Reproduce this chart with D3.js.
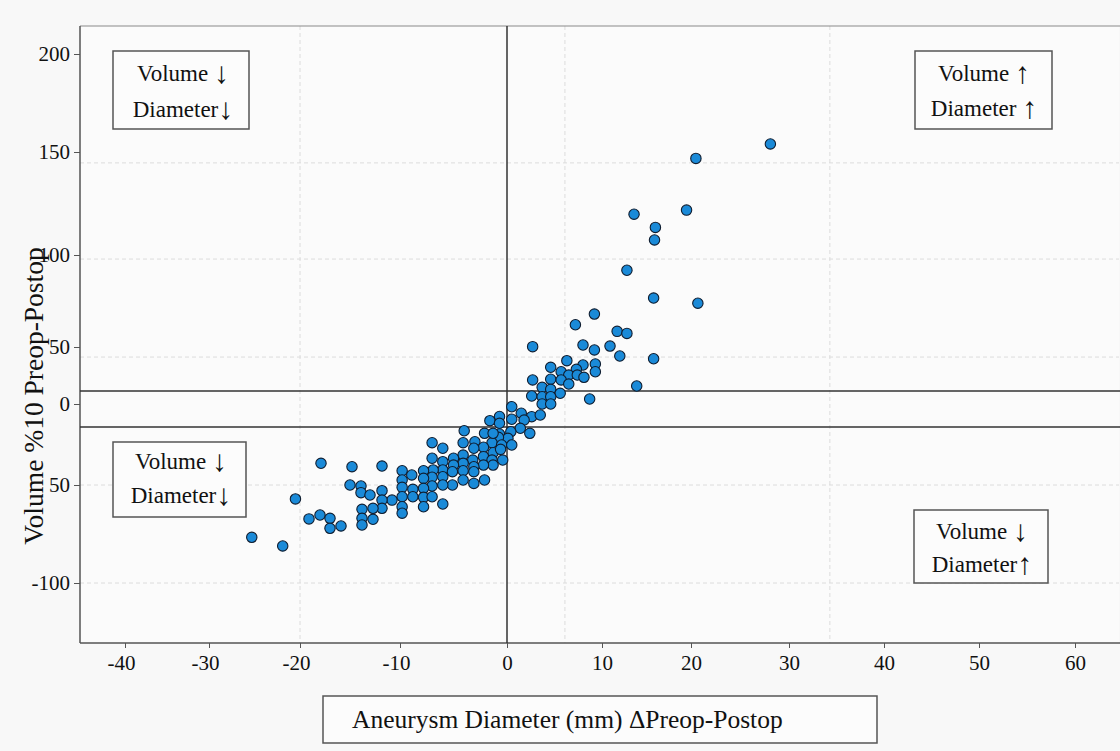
<!DOCTYPE html>
<html>
<head>
<meta charset="utf-8">
<script src="https://cdn.jsdelivr.net/npm/d3@7"></script>
<style>
  body { margin: 0; background: #f8f8f8; }
  svg { display: block; }
</style>
</head>
<body>
<div id="chart"></div>
<script>
// data
const xTicks = [-40, -30, -20, -10, 0, 10, 20, 30, 40, 50, 60];
const yTicks = [-100, -50, 0, 50, 100, 150, 200];
const yTickLabels = ["-100", "50", "0", "50", "100", "150", "200"];

// aneurysm diameter change (mm)
const diamChange = [
  28.1, 20.5, 19.5, 13.6, 16.0, 15.9, 12.8, 15.8, 20.7, 9.2, 7.2, 11.7, 12.8, 2.7, 8.0, 9.2, 10.9, 12.0, 15.8, 6.3,
  4.6, 5.7, 8.0, 9.3, 9.3, 7.3, 6.5, 7.4, 8.1, 2.7, 4.6, 5.7, 6.5, 3.7, 4.6, 5.6, 13.9, 2.6, 3.7, 4.6,
  3.7, 4.6, 8.7, 0.5, 1.5, 2.6, 3.5, -0.7, 0.5, -1.6, -0.7, 1.8, 1.4, 2.4, -2.1, -0.7, 0.4, 0.1, -0.8, -3.0,
  -1.4, -0.5, 0.5, -2.2, -4.0, -1.3, -7.0, -6.0, -4.1, -3.1, -1.3, -0.6, -2.2, -1.4, -1.3, -0.4, -3.2, -4.1, -5.0, -6.0,
  -7.0, -4.1, -5.0, -2.2, -3.1, -6.0, -5.1, -4.1, -6.9, -7.8, -11.8, -9.8, -8.9, -3.1, -6.0, -7.0, -7.8, -9.8, -4.1, -5.1,
  -6.0, -7.0, -7.8, -8.8, -9.8, -3.1, -2.1, -11.8, -10.8, -9.8, -8.8, -7.8, -7.0, -11.8, -9.8, -7.8, -6.0, -11.8, -9.8, -17.9,
  -14.8, -15.0, -13.9, -13.9, -13.0, -20.5, -13.8, -12.7, -18.0, -19.1, -17.0, -13.8, -12.7, -13.8, -17.0, -15.9, -25.3, -21.9
];
// volume change (%)
const volChange = [
  154.1, 146.9, 121.8, 119.8, 113.4, 107.3, 91.7, 76.6, 73.8, 67.9, 62.1, 58.5, 57.4, 50.2, 51.1, 47.4, 50.5, 42.1, 39.7, 38.0,
  32.2, 28.3, 34.2, 35.1, 28.3, 30.4, 25.4, 25.4, 23.4, 21.1, 21.7, 21.1, 17.5, 14.6, 12.9, 9.4, 15.8, 7.0, 6.4, 6.4,
  0, 0, 4.4, -1.7, -5.7, -7.8, -6.8, -7.7, -9.4, -10.3, -11.9, -9.9, -15.0, -18.1, -18.1, -18.5, -17.1, -21.2, -20.6, -23.3,
  -23.9, -25.3, -25.3, -26.7, -16.5, -18.1, -23.9, -27.3, -23.9, -27.3, -30.1, -28.0, -32.5, -34.6, -37.7, -34.6, -34.6, -31.5, -33.5, -35.6,
  -33.5, -36.6, -37.7, -37.7, -38.7, -40.7, -41.8, -41.2, -40.7, -41.2, -38.3, -41.2, -43.8, -41.8, -44.9, -45.2, -45.9, -46.9, -46.9, -50,
  -50, -50.5, -51.7, -52.2, -51.2, -49.0, -46.9, -52.9, -57.7, -56.0, -56.0, -56.3, -56.0, -57.7, -61.1, -61.1, -59.7, -61.9, -64.4, -36.6,
  -38.7, -50, -50.5, -53.9, -55.1, -57.1, -62.4, -61.9, -65.3, -67.3, -67.0, -67.0, -67.5, -70.4, -72.1, -70.9, -76.7, -81.1
];

const refLinesY = [11.4, -14.2];
const gridX = [-20, 6.1, 34.3];
const gridY = [144.7, 97.8, 41.2, -50, -100];

// [word, arrow] pairs for each quadrant box
const quadrantNotes = [
  [["Volume ", "\u2193"], ["Diameter", "\u2193"]],
  [["Volume ", "\u2191"], ["Diameter ", "\u2191"]],
  [["Volume ", "\u2193"], ["Diameter", "\u2193"]],
  [["Volume ", "\u2193"], ["Diameter", "\u2191"]]
];
const xLabel = "Aneurysm Diameter (mm) \u0394Preop-Postop";
const yLabel = "Volume %10 Preop-Postop";

// layout
const fullwidth = 1120, fullheight = 751;
const plotLeft = 80, plotRight = 1119, plotTop = 26, plotBottom = 643;
const xTickPx = [125, 209, 300, 400, 507, 602, 691, 789, 884, 979, 1075];   // the figure's axis is not evenly spaced
const yTickPx = [583, 485, 404, 347, 255, 152, 54];
const noteBoxes = [
  { x: 113, y: 51, w: 136, h: 78, cx: 183, b1: 81, b2: 117 },
  { x: 915, y: 51, w: 137, h: 78, cx: 984, b1: 81, b2: 116 },
  { x: 113, y: 442, w: 133, h: 75, cx: 181, b1: 469, b2: 503 },
  { x: 914, y: 510, w: 134, h: 73, cx: 982, b1: 539, b2: 572 }
];
const serif = "'Liberation Serif', 'DejaVu Serif', serif";

const x = d3.scaleLinear().domain(xTicks).range(xTickPx);
const y = d3.scaleLinear().domain(yTicks).range(yTickPx);

const svg = d3.select("#chart")
  .append("svg")
  .attr("width", fullwidth)
  .attr("height", fullheight);

svg.append("rect")
  .attr("width", fullwidth).attr("height", fullheight)
  .attr("fill", "#f8f8f8");

svg.append("rect")
  .attr("x", plotLeft).attr("y", plotTop)
  .attr("width", plotRight - plotLeft).attr("height", plotBottom - plotTop)
  .attr("fill", "#fbfbfb");

// dashed grid
svg.append("g").selectAll("line")
  .data(gridY).enter().append("line")
  .attr("x1", plotLeft).attr("x2", plotRight)
  .attr("y1", d => y(d)).attr("y2", d => y(d))
  .attr("stroke", "#dcdcdc").attr("stroke-dasharray", "4,3");
svg.append("g").selectAll("line")
  .data(gridX).enter().append("line")
  .attr("x1", d => x(d)).attr("x2", d => x(d))
  .attr("y1", plotTop).attr("y2", plotBottom)
  .attr("stroke", "#dcdcdc").attr("stroke-dasharray", "4,3");

// frame top
svg.append("line")
  .attr("x1", plotLeft).attr("x2", fullwidth)
  .attr("y1", plotTop).attr("y2", plotTop)
  .attr("stroke", "#8a8a8a").attr("stroke-width", 1.2);

// axes
const yAxis = svg.append("g")
  .attr("transform", `translate(${plotLeft},0)`)
  .call(d3.axisLeft(y).tickValues(yTicks).tickFormat((d, i) => yTickLabels[i]).tickSize(6).tickPadding(4));
const xAxis = svg.append("g")
  .attr("transform", `translate(0,${plotBottom})`)
  .call(d3.axisBottom(x).tickValues(xTicks).tickFormat(d => d).tickSize(5).tickPadding(7));

[yAxis, xAxis].forEach(ax => {
  ax.select(".domain").remove();
  ax.selectAll(".tick line").attr("stroke", "#555");
  ax.selectAll(".tick text").attr("font-size", 21).attr("fill", "#111")
    .style("font-family", serif);
});
xAxis.selectAll(".tick text").attr("dx", d => d < 0 ? -4 : 0);

svg.append("line")
  .attr("x1", plotLeft).attr("x2", plotLeft).attr("y1", plotTop).attr("y2", plotBottom)
  .attr("stroke", "#555").attr("stroke-width", 1.5);
svg.append("line")
  .attr("x1", plotLeft).attr("x2", fullwidth).attr("y1", plotBottom).attr("y2", plotBottom)
  .attr("stroke", "#555").attr("stroke-width", 1.5);

// reference lines
svg.append("g").selectAll("line")
  .data(refLinesY).enter().append("line")
  .attr("x1", plotLeft).attr("x2", fullwidth)
  .attr("y1", d => y(d)).attr("y2", d => y(d))
  .attr("stroke", "#333").attr("stroke-width", 1.5);
svg.append("line")
  .attr("x1", x(0)).attr("x2", x(0))
  .attr("y1", plotTop).attr("y2", plotBottom)
  .attr("stroke", "#333").attr("stroke-width", 1.5);

// points
svg.append("g").selectAll("circle")
  .data(d3.zip(diamChange, volChange))
  .enter().append("circle")
  .attr("cx", d => x(d[0]))
  .attr("cy", d => y(d[1]))
  .attr("r", 5.2)
  .attr("fill", "#1a8ad8")
  .attr("stroke", "#0f1d30")
  .attr("stroke-width", 1.1);

// quadrant notes
const notes = svg.append("g");
quadrantNotes.forEach((lines, i) => {
  const b = noteBoxes[i];
  notes.append("rect")
    .attr("x", b.x).attr("y", b.y).attr("width", b.w).attr("height", b.h)
    .attr("fill", "#fcfcfc").attr("stroke", "#555").attr("stroke-width", 1.5);
  lines.forEach(([word, arrow], j) => {
    const t = notes.append("text")
      .attr("x", b.cx).attr("y", j === 0 ? b.b1 : b.b2).attr("text-anchor", "middle")
      .style("font-family", serif).attr("font-size", 23).attr("fill", "#111");
    t.append("tspan").text(word);
    t.append("tspan").attr("font-size", 30).attr("dy", 2).text(arrow);
  });
});

// axis titles
svg.append("rect")
  .attr("x", 323).attr("y", 696).attr("width", 554).attr("height", 47)
  .attr("fill", "#fcfcfc").attr("stroke", "#555").attr("stroke-width", 1.5);
svg.append("text")
  .attr("x", 352).attr("y", 728)
  .style("font-family", serif).attr("font-size", 25.5).attr("fill", "#111")
  .text(xLabel);

svg.append("text")
  .attr("transform", "translate(43,396) rotate(-90)")
  .attr("text-anchor", "middle")
  .style("font-family", serif).attr("font-size", 27.5).attr("fill", "#111")
  .text(yLabel);
</script>
</body>
</html>
